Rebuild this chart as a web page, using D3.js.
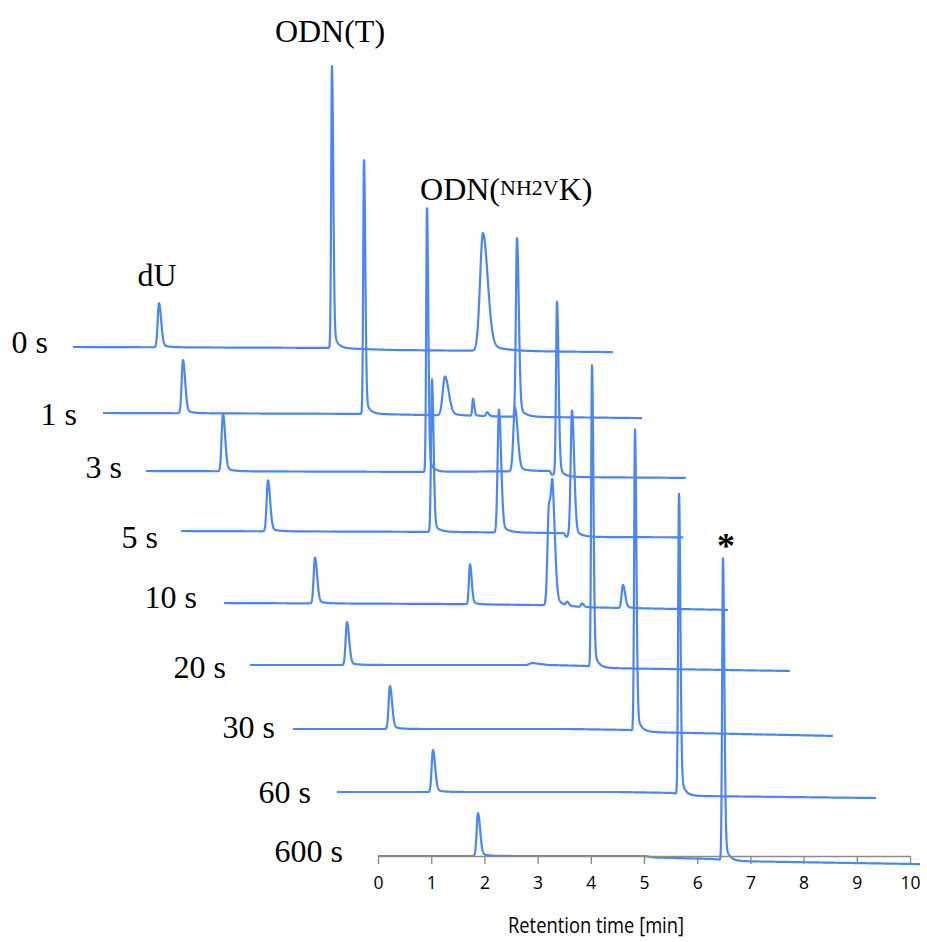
<!DOCTYPE html>
<html>
<head>
<meta charset="utf-8">
<script src="https://cdn.jsdelivr.net/npm/d3@7"></script>
<style>
  html, body { margin: 0; padding: 0; background: #fff; }
  svg { display: block; }
</style>
</head>
<body>
<svg id="chart" width="927" height="942"></svg>
<script>
/* ── Data ─────────────────────────────────────────── */

// irradiation time of each chromatogram (back → front)
const sampleNames = ['0 s', '1 s', '3 s', '5 s', '10 s', '20 s', '30 s', '60 s', '600 s'];

// recorded run length of each trace (min)
const runEnd = [10.15, 10.13, 10.15, 9.44, 9.47, 10.15, 10.15, 10.13, 10.19];

// peaks per trace: [retention time (min), height (rel. abs.), sigma (min)]
const peaks = [
  [[1.617, 14.7, 0.025], [4.868, 94.0, 0.015], [7.707, 39.3, 0.055]],
  [[1.504, 17.7, 0.025], [4.906, 85.0, 0.015], [6.429, 13.0, 0.043],
   [6.955, 5.7, 0.014], [7.220, 1.3, 0.020], [7.782, 59.7, 0.021]],
  [[1.447, 19.3, 0.025], [5.282, 88.3, 0.015], [6.936, 21.3, 0.031],
   [7.630, -1.0, 0.020], [7.726, 57.7, 0.018]],
  [[1.635, 17.0, 0.025], [4.718, 51.0, 0.018], [5.977, 41.0, 0.025],
   [7.240, -1.0, 0.020], [7.350, 41.7, 0.025]],
  [[1.711, 15.3, 0.025], [4.624, 13.3, 0.020], [6.109, 33.0, 0.028],
   [6.180, 30.5, 0.028], [6.450, 1.2, 0.020], [6.730, 1.2, 0.020], [7.500, 7.7, 0.025]],
  [[1.823, 14.3, 0.025], [6.429, 100.7, 0.016]],
  [[1.823, 14.3, 0.025], [6.429, 100.7, 0.016]],
  [[1.805, 14.0, 0.025], [6.429, 100.3, 0.016]],
  [[1.880, 14.3, 0.025], [6.485, 100.7, 0.016]]
];

// baseline drift per trace: [time (min), offset (rel. abs.)]
const drift = [
  [[0, 0], [4.8, -0.3], [6.0, -1.0], [10.15, -1.7]],
  [[0, 0], [5.0, -0.3], [7.5, -1.2], [10.13, -1.7]],
  [[0, 0], [5.2, -0.3], [7.6, 0], [7.85, -2.0], [10.15, -2.3]],
  [[0, 0], [5.0, -0.3], [7.2, -0.7], [7.45, -2.0], [9.44, -2.1]],
  [[0, 0], [4.0, -0.3], [6.0, -0.7], [6.4, -1.3], [9.47, -2.3]],
  [[0, 0], [5.2, 0], [5.3, 0.7], [5.6, 0], [6.3, -0.3], [6.6, -1.0], [10.15, -2.0]],
  [[0, 0], [5.2, 0], [6.3, -0.3], [6.6, -1.0], [10.15, -2.3]],
  [[0, 0], [5.3, 0], [6.3, -0.3], [6.6, -1.3], [10.13, -2.0]],
  [[0, 0], [5.0, 0], [5.2, -0.5], [6.3, -1.0], [6.7, -1.7], [10.19, -2.7]]
];

// waterfall offsets: shift in time (min) and in signal (rel. abs.)
const xShift = [-5.733, -5.169, -4.361, -3.703, -2.895, -2.406, -1.598, -0.771, 0];
const yShift = [169.67, 147.67, 128.33, 108.33, 84.33, 63.67, 42.33, 21.33, 0];

const timeTicks = [0, 1, 2, 3, 4, 5, 6, 7, 8, 9, 10];

/* ── Layout ───────────────────────────────────────── */

const LINE   = '#4a86f6';
const SERIF  = "'Liberation Serif', 'Times New Roman', serif";
const SANS   = "'Open Sans', 'Liberation Sans', sans-serif";
const STEP   = 0.004;          // sampling step (min)
const TAIL_K = 1.6;            // right-side sigma factor
const TAIL_A = 0.08;           // exponential tail fraction

// label nudges relative to each trace start (px)
const labelGap = [25, 26, 24, 23, 27, 24, 18, 26, 35];
const labelDy  = [6, 12, 7, 17, 5, 13, 9, 11, 6];

const svg = d3.select('#chart');

const x = d3.scaleLinear().domain([0, 10]).range([378, 910]);
const y = d3.scaleLinear().domain([0, 100]).range([856, 556]);

function peakShape(t, p) {
  const [t0, h, s] = p;
  const dt = t - t0;
  if (dt < 0) return h * Math.exp(-(dt * dt) / (2 * s * s));
  const sr = s * TAIL_K;
  return h * ((1 - TAIL_A) * Math.exp(-(dt * dt) / (2 * sr * sr)) +
              TAIL_A * Math.exp(-dt / (5 * s)));
}

const line = d3.line().x(d => d[0]).y(d => d[1]);

// ── Traces ───────────────────────────────────────────
const traceG = svg.append('g');

sampleNames.forEach((name, i) => {
  const base = d3.scaleLinear()
    .domain(drift[i].map(d => d[0]))
    .range(drift[i].map(d => d[1]))
    .clamp(true);

  const pts = d3.range(0, runEnd[i] + STEP / 2, STEP).map(t => {
    const v = base(t) + d3.sum(peaks[i], p => peakShape(t, p));
    return [x(t + xShift[i]), y(v + yShift[i])];
  });

  traceG.append('path')
    .attr('d', line(pts))
    .attr('fill', 'none')
    .attr('stroke', LINE)
    .attr('stroke-width', 2.2)
    .attr('stroke-linejoin', 'round');

  // sample label
  svg.append('text')
    .attr('x', x(xShift[i]) - labelGap[i])
    .attr('y', y(yShift[i]) + labelDy[i])
    .attr('text-anchor', 'end')
    .attr('font-family', SERIF)
    .attr('font-size', 32)
    .attr('fill', '#000')
    .text(name);
});

// ── Axis ─────────────────────────────────────────────
const axisG = svg.append('g')
  .attr('transform', `translate(0,${y(0)})`)
  .call(d3.axisBottom(x).tickValues(timeTicks).tickSize(8).tickSizeOuter(0).tickPadding(13));

axisG.select('.domain').attr('stroke', '#8c8c8c').attr('stroke-width', 1.6);
axisG.selectAll('.tick line').attr('stroke', '#8c8c8c').attr('stroke-width', 1.4);
axisG.selectAll('.tick text')
  .attr('font-family', SANS)
  .attr('font-size', 17.5)
  .attr('fill', '#000');

svg.append('text')
  .attr('x', 596)
  .attr('y', 933)
  .attr('text-anchor', 'middle')
  .attr('font-family', SANS)
  .attr('font-size', 21)
  .attr('textLength', 176)
  .attr('lengthAdjust', 'spacingAndGlyphs')
  .attr('fill', '#000')
  .text('Retention time [min]');

// ── Peak annotations ─────────────────────────────────
function peakXY(i, k) {
  const p = peaks[i][k];
  return [x(p[0] + xShift[i]), y(p[1] + yShift[i])];
}

const [duX, duY] = peakXY(0, 0);
svg.append('text')
  .attr('x', duX - 2).attr('y', duY - 17)
  .attr('text-anchor', 'middle')
  .attr('font-family', SERIF).attr('font-size', 32)
  .text('dU');

const [tX, tY] = peakXY(0, 1);
svg.append('text')
  .attr('x', tX - 2).attr('y', tY - 23)
  .attr('text-anchor', 'middle')
  .attr('font-family', SERIF).attr('font-size', 32)
  .text('ODN(T)');

const [kX, kY] = peakXY(0, 2);
const kLabel = svg.append('text')
  .attr('x', kX - 63).attr('y', kY - 29)
  .attr('font-family', SERIF).attr('font-size', 32);
kLabel.append('tspan').text('ODN(');
kLabel.append('tspan').attr('font-size', 22).attr('dy', -5).text('NH2V');
kLabel.append('tspan').attr('dy', 5).text('K)');

const [sX, sY] = peakXY(8, 1);
svg.append('text')
  .attr('x', sX + 3).attr('y', sY + 4)
  .attr('text-anchor', 'middle')
  .attr('font-family', SERIF).attr('font-size', 36).attr('font-weight', 'bold')
  .text('*');
</script>
</body>
</html>
